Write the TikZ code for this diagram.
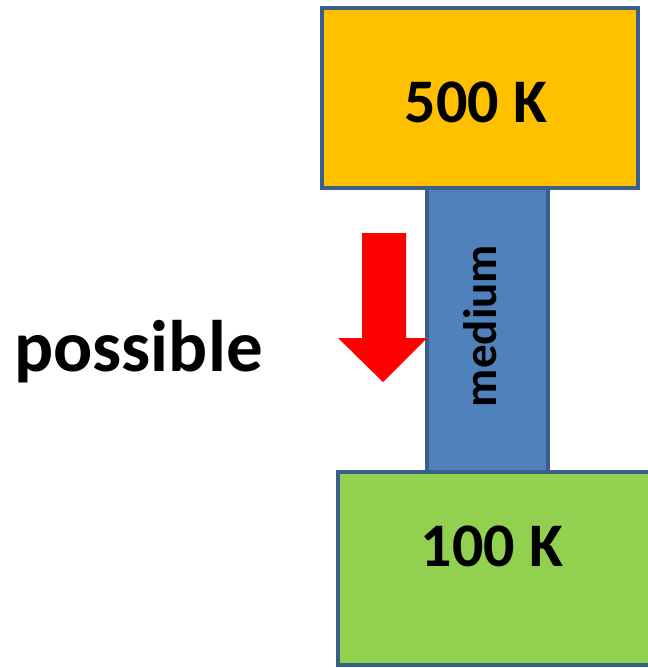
\documentclass[tikz,border=0pt]{standalone}
\usepackage{fontspec}
\setmainfont{Carlito}
\usetikzlibrary{positioning}
\definecolor{hotcol}{HTML}{FFC000}
\definecolor{coldcol}{HTML}{92D050}
\definecolor{medcol}{HTML}{4F81BD}
\definecolor{edgecol}{HTML}{3A5F8B}
\begin{document}
\begin{tikzpicture}[x=1pt,y=-1pt,
every node/.style={font=\bfseries},
box/.style={draw=edgecol,line width=3.5pt,inner sep=0pt}]
\useasboundingbox (0,0) rectangle (647,668);
\node[box,fill=medcol,minimum width=121pt,minimum height=284pt] (med) at (487.5,330) {};
\node[box,fill=hotcol,minimum width=316pt,minimum height=180pt] (hot) at (480,98) {};
\node[box,fill=coldcol,minimum width=316pt,minimum height=193pt] (cold) at (496,568.5) {};
\node[font=\bfseries\fontsize{62}{62}\selectfont] (Thot) at (476,102) {500 K};
\node[font=\bfseries\fontsize{62}{62}\selectfont] (Tcold) at (492,546) {100 K};
\node[font=\bfseries\fontsize{47}{47}\selectfont,rotate=90,anchor=base] (Tmed) at (496,326) {medium};
\node[font=\bfseries\fontsize{73}{73}\selectfont,anchor=base west,inner sep=0pt] (poss) at (14,371) {possible};
% flow direction
\fill[red] (362,233) -- (406,233) -- (406,338) -- (427,338) -- (383,382)
  -- (338,338) -- (362,338) -- cycle;
\end{tikzpicture}
\end{document}
